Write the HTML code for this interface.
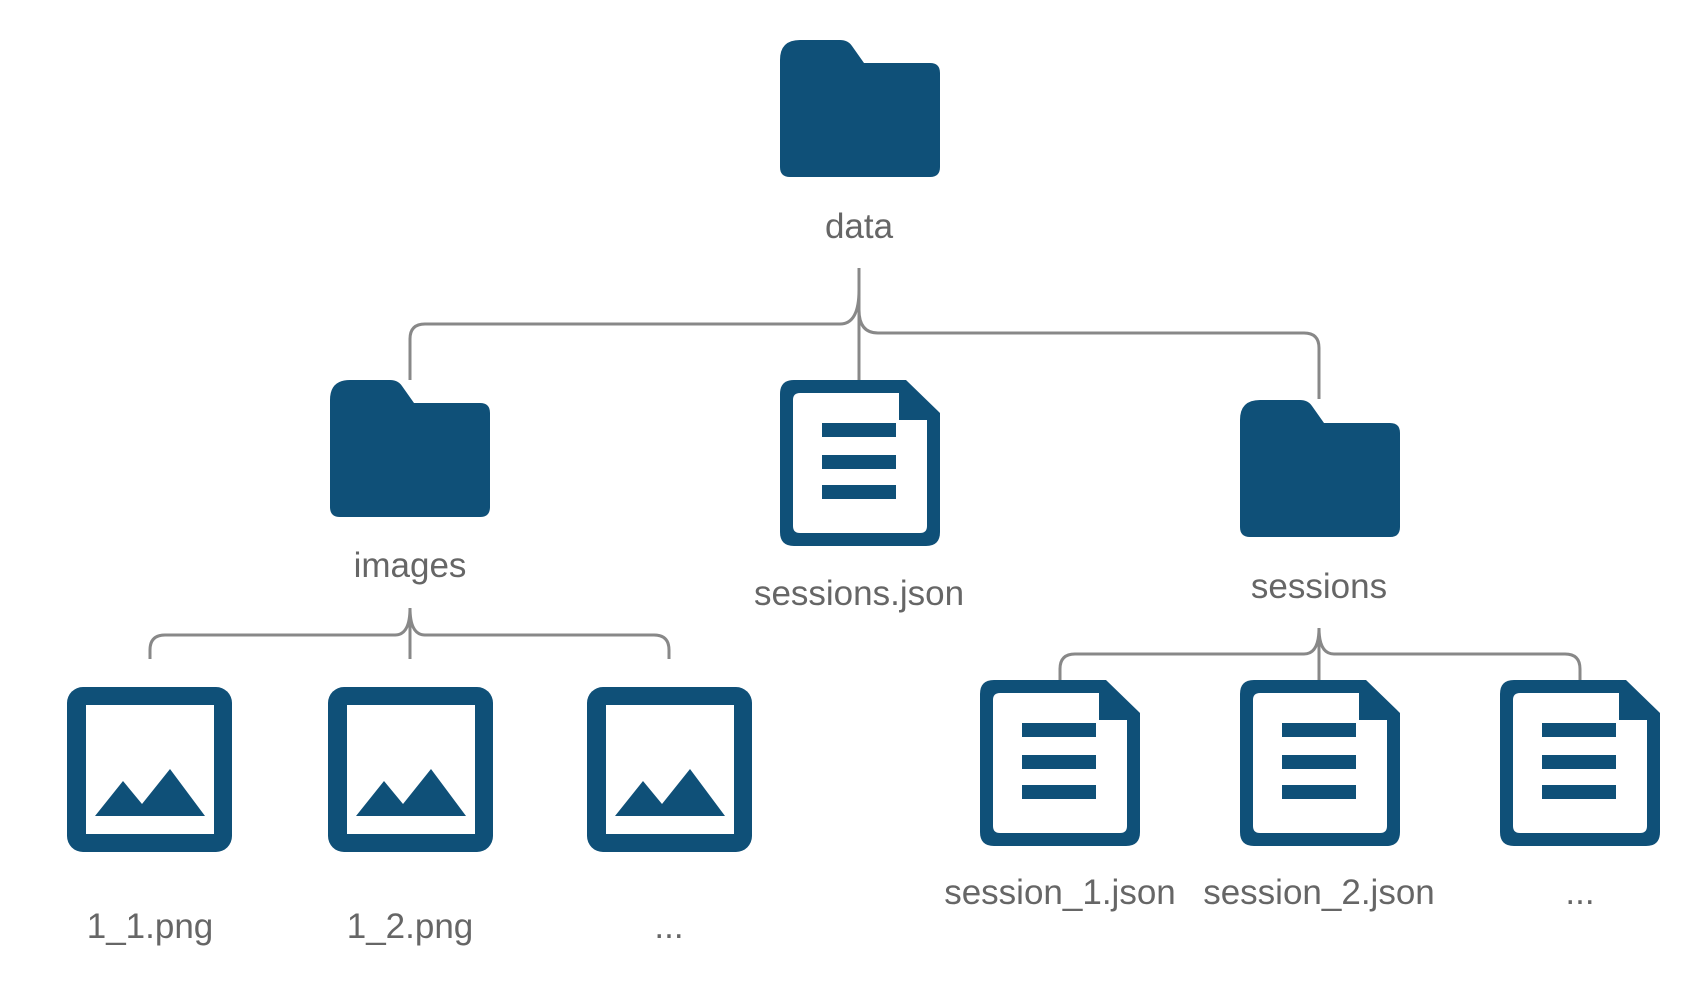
<!DOCTYPE html>
<html><head><meta charset="utf-8"><style>
html,body{margin:0;padding:0;background:#fff;}
svg{display:block;}
text{font-family:"Liberation Sans",sans-serif;font-size:35px;fill:#666;text-anchor:middle;}
</style></head><body>
<svg width="1701" height="992" viewBox="0 0 1701 992" xmlns="http://www.w3.org/2000/svg">
<defs>
<g id="folder">
<path d="M0,20 Q0,0 20,0 L60,0 Q68,0 72,6 L84,23 L150,23 Q160,23 160,33 L160,127 Q160,137 150,137 L10,137 Q0,137 0,127 Z" fill="#0f5078"/>
</g>
<g id="doc">
<path d="M14,0 L126,0 L160,33 L160,152 Q160,166 146,166 L14,166 Q0,166 0,152 L0,14 Q0,0 14,0 Z" fill="#0f5078"/>
<path d="M17,13 L119,13 L119,40 L147,40 L147,146 Q147,153 140,153 L20,153 Q13,153 13,146 L13,20 Q13,13 20,13 Z" fill="#fff"/>
<rect x="42" y="103" width="74" height="14" fill="#0f5078"/>
<rect x="42" y="135" width="74" height="14" fill="#0f5078" transform="translate(0,-32)"/>
<rect x="42" y="135" width="74" height="14" fill="#0f5078"/>
<rect x="42" y="165" width="74" height="14" fill="#0f5078"/>
</g>
<g id="img">
<rect x="0" y="0" width="165" height="165" rx="16" fill="#0f5078"/>
<rect x="19" y="18" width="128" height="129" fill="#fff"/>
<path d="M28,129 L56,94 L75,117 L103,82 L138,129 Z" fill="#0f5078"/>
</g>
</defs>

<!-- connectors -->
<g fill="none" stroke="#888" stroke-width="3">
<path d="M859,268 L859,380"/>
<path d="M859,290 Q859,324 840,324 L425,324 Q410,324 410,339 L410,380"/>
<path d="M859,310 Q859,333 878,333 L1304,333 Q1319,333 1319,348 L1319,399"/>
<path d="M410,608 L410,659"/>
<path d="M410,608 Q410,635 395,635 L165,635 Q150,635 150,650 L150,659"/>
<path d="M410,608 Q410,635 425,635 L654,635 Q669,635 669,650 L669,659"/>
<path d="M1319,628 L1319,680"/>
<path d="M1319,628 Q1319,654 1304,654 L1075,654 Q1060,654 1060,669 L1060,680"/>
<path d="M1319,628 Q1319,654 1334,654 L1565,654 Q1580,654 1580,669 L1580,680"/>
</g>

<use href="#folder" x="780" y="40"/>
<text x="859" y="238">data</text>

<use href="#folder" x="330" y="380"/>
<text x="410" y="577">images</text>

<g transform="translate(780,380)">
<path d="M14,0 L126,0 L160,33 L160,152 Q160,166 146,166 L14,166 Q0,166 0,152 L0,14 Q0,0 14,0 Z" fill="#0f5078"/>
<path d="M17,13 L119,13 L119,40 L147,40 L147,146 Q147,153 140,153 L20,153 Q13,153 13,146 L13,20 Q13,13 20,13 Z" fill="#fff"/>
<rect x="42" y="43" width="74" height="14" fill="#0f5078"/>
<rect x="42" y="75" width="74" height="14" fill="#0f5078"/>
<rect x="42" y="105" width="74" height="14" fill="#0f5078"/>
</g>
<text x="859" y="605">sessions.json</text>

<use href="#folder" x="1240" y="400"/>
<text x="1319" y="598">sessions</text>

<use href="#img" x="67" y="687"/>
<use href="#img" x="328" y="687"/>
<use href="#img" x="587" y="687"/>
<text x="150" y="938">1_1.png</text>
<text x="410" y="938">1_2.png</text>
<text x="669" y="938">...</text>

<g id="d1" transform="translate(980,680)">
<path d="M14,0 L126,0 L160,33 L160,152 Q160,166 146,166 L14,166 Q0,166 0,152 L0,14 Q0,0 14,0 Z" fill="#0f5078"/>
<path d="M17,13 L119,13 L119,40 L147,40 L147,146 Q147,153 140,153 L20,153 Q13,153 13,146 L13,20 Q13,13 20,13 Z" fill="#fff"/>
<rect x="42" y="43" width="74" height="14" fill="#0f5078"/>
<rect x="42" y="75" width="74" height="14" fill="#0f5078"/>
<rect x="42" y="105" width="74" height="14" fill="#0f5078"/>
</g>
<use href="#d1" x="260" y="0"/>
<use href="#d1" x="520" y="0"/>
<text x="1060" y="904">session_1.json</text>
<text x="1319" y="904">session_2.json</text>
<text x="1580" y="904">...</text>
</svg>
</body></html>
